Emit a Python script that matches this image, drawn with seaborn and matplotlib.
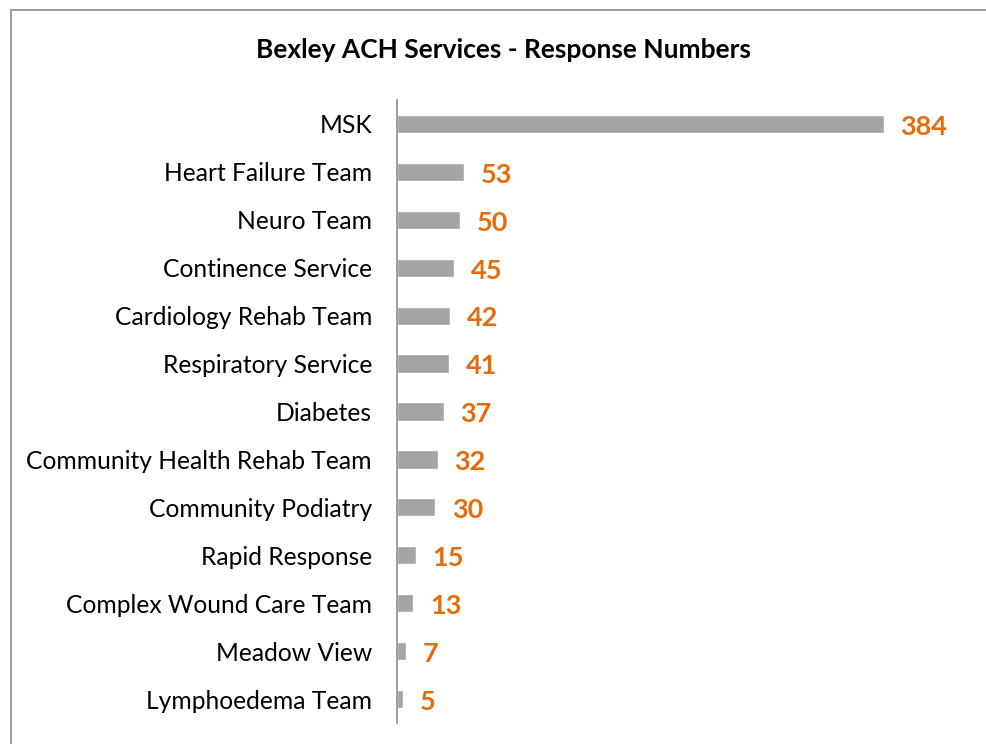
import matplotlib
matplotlib.use("Agg")
import matplotlib.pyplot as plt
import seaborn as sns
import pandas as pd
from matplotlib.patches import Rectangle

categories = ["MSK", "Heart Failure Team", "Neuro Team", "Continence Service",
              "Cardiology Rehab Team", "Respiratory Service", "Diabetes",
              "Community Health Rehab Team", "Community Podiatry", "Rapid Response",
              "Complex Wound Care Team", "Meadow View", "Lymphoedema Team"]
values = [384, 53, 50, 45, 42, 41, 37, 32, 30, 15, 13, 7, 5]
title = "Bexley ACH Services - Response Numbers"

sns.set_theme(style="white")
plt.rcParams['font.family'] = ['Lato', 'DejaVu Sans']

W, H = 986, 744
fig = plt.figure(figsize=(W/100, H/100), dpi=100)
ax = fig.add_axes([397/W, 1 - 723/H, (960-397)/W, (723-100)/H])

df = pd.DataFrame({"cat": categories, "val": values})
sns.barplot(data=df, x="val", y="cat", orient="h", color="#A5A5A5",
            saturation=1, width=0.38, ax=ax)
ax.set_xlim(0, (960-397)/1.268)
ax.set_ylim(len(categories)-0.5, -0.5)
ax.set_xlabel("")
ax.set_ylabel("")
ax.set_xticks([])
for s in ["top", "right", "bottom"]:
    ax.spines[s].set_visible(False)
ax.spines["left"].set_color("#8C8C8C")
ax.spines["left"].set_linewidth(1.2)
ax.tick_params(axis="y", length=0, pad=18, labelsize=17.7, labelcolor="#000000")

for i, v in enumerate(values):
    ax.annotate(str(v), (v, i), xytext=(12, -2), textcoords="offset points",
                ha="left", va="center", fontsize=19.5, fontweight="bold",
                color="#E46C0A")

fig.text(503/W, 1 - 50/H, title, ha="center", va="center",
         fontsize=19, fontweight="bold", color="#000000")

fig.patches.append(Rectangle((11/W, -0.1), 1.2, 1 - 10/H + 0.1,
                             transform=fig.transFigure, fill=False,
                             edgecolor="#8C8C8C", linewidth=1.2))

fig.savefig("out.png", dpi=100)
